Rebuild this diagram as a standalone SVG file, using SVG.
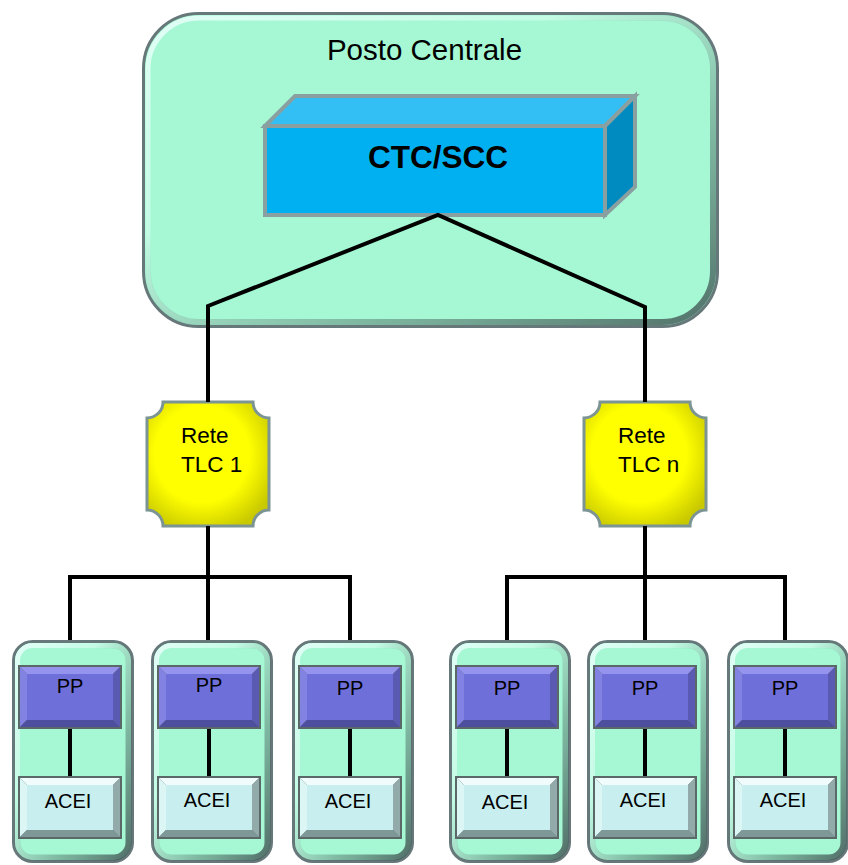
<svg xmlns="http://www.w3.org/2000/svg" xmlns:xlink="http://www.w3.org/1999/xlink" width="848" height="865" viewBox="0 0 848 865">
  <style>
    .lbl { font-family: "Liberation Sans", Arial, sans-serif; fill: #000; }
    .wire { fill: none; stroke: #000; stroke-width: 4; stroke-linejoin: miter; stroke-linecap: butt; }
    .panel { fill: #A5F8D3; stroke: #66787A; stroke-width: 3; }
    .hl { fill: none; stroke: url(#hlGrad); stroke-width: 5; }
    .sh { fill: none; stroke: url(#shGrad); stroke-width: 6; }
    .tlc { fill: url(#yellowGrad); stroke: #7C9494; stroke-width: 3; }
  </style>
  <defs>
    <linearGradient id="hlGrad" x1="0" y1="0" x2="1" y2="1">
      <stop offset="0" stop-color="#E4FFF8" stop-opacity="0.95"/>
      <stop offset="0.45" stop-color="#E4FFF8" stop-opacity="0.35"/>
      <stop offset="0.7" stop-color="#E4FFF8" stop-opacity="0"/>
    </linearGradient>
    <linearGradient id="shGrad" x1="0" y1="0" x2="1" y2="1">
      <stop offset="0.35" stop-color="#3E5050" stop-opacity="0"/>
      <stop offset="0.75" stop-color="#3E5050" stop-opacity="0.45"/>
      <stop offset="1" stop-color="#3E5050" stop-opacity="0.8"/>
    </linearGradient>
    <radialGradient id="yellowGrad" cx="0.45" cy="0.42" r="0.65">
      <stop offset="0.6" stop-color="#FFFF00"/>
      <stop offset="1" stop-color="#C9C900"/>
    </radialGradient>

    <!-- field cabinet: PP unit above ACEI unit -->
    <g id="cabinet">
      <rect class="panel" x="1.5" y="1.5" width="119" height="220" rx="19"/>
      <rect class="hl" x="5.5" y="5.5" width="111" height="212" rx="15"/>
      <rect class="sh" x="5.5" y="5.5" width="111" height="212" rx="15"/>
      <!-- PP bevelled block -->
      <rect x="6" y="25" width="104" height="64" fill="#5A6868"/>
      <polygon points="8,27 108,27 101,34 15,34" fill="#9494EE"/>
      <polygon points="8,27 15,34 15,80 8,87" fill="#8282E2"/>
      <polygon points="8,87 15,80 101,80 108,87" fill="#4E4E9E"/>
      <polygon points="108,27 108,87 101,80 101,34" fill="#5A5AB2"/>
      <rect x="15" y="34" width="86" height="46" fill="#6F6FD9"/>
      <!-- ACEI bevelled block -->
      <rect x="6" y="136" width="104" height="63" fill="#5A6868"/>
      <polygon points="8,138 108,138 101,145 15,145" fill="#F0FCFC"/>
      <polygon points="8,138 15,145 15,190 8,197" fill="#DCF5F5"/>
      <polygon points="8,197 15,190 101,190 108,197" fill="#7E9898"/>
      <polygon points="108,138 108,197 101,190 101,145" fill="#92AAAA"/>
      <rect x="15" y="145" width="86" height="45" fill="#C8EEEF"/>
    </g>
  </defs>

  <!-- central station container -->
  <g id="posto-centrale">
    <rect class="panel" x="143.5" y="13.5" width="574" height="313" rx="55"/>
    <rect class="hl" x="148" y="18" width="565" height="304" rx="51"/>
    <rect class="sh" x="148" y="18" width="565" height="304" rx="51"/>
    <text class="lbl" x="424.5" y="60" font-size="29.5" text-anchor="middle">Posto Centrale</text>
  </g>

  <!-- CTC/SCC server block (3D box) -->
  <g id="ctc-scc" stroke="#8AA0A0" stroke-width="4" stroke-linejoin="miter">
    <polygon points="265,126 295,96 635,96 605,126" fill="#33BFF3"/>
    <polygon points="605,126 635,96 635,187 605,215" fill="#008BC0"/>
    <rect x="265" y="126" width="340" height="89" fill="#00B0F0"/>
    <text class="lbl" x="438" y="168" font-size="31.5" font-weight="bold" text-anchor="middle" stroke="none">CTC/SCC</text>
  </g>

  <!-- telecom networks -->
  <g id="rete-tlc-1">
    <path class="tlc" d="M163,402 H253 A16,16 0 0 0 269,418 V510 A16,16 0 0 0 253,526 H163 A16,16 0 0 0 147,510 V418 A16,16 0 0 0 163,402 Z"/>
    <text class="lbl" x="181" y="443" font-size="22.5">Rete</text>
    <text class="lbl" x="181" y="472" font-size="22.5">TLC 1</text>
  </g>
  <g id="rete-tlc-n">
    <path class="tlc" d="M600,402 H690 A16,16 0 0 0 706,418 V510 A16,16 0 0 0 690,526 H600 A16,16 0 0 0 584,510 V418 A16,16 0 0 0 600,402 Z"/>
    <text class="lbl" x="618" y="443" font-size="22.5">Rete</text>
    <text class="lbl" x="618" y="472" font-size="22.5">TLC n</text>
  </g>

  <!-- peripheral sites -->
  <g id="site-1" transform="translate(12,640)">
    <use href="#cabinet"/>
    <text class="lbl" x="58" y="53" font-size="20" text-anchor="middle">PP</text>
    <text class="lbl" x="56" y="168" font-size="20" text-anchor="middle">ACEI</text>
  </g>
  <g id="site-2" transform="translate(151,640)">
    <use href="#cabinet"/>
    <text class="lbl" x="58" y="52" font-size="20" text-anchor="middle">PP</text>
    <text class="lbl" x="56" y="167" font-size="20" text-anchor="middle">ACEI</text>
  </g>
  <g id="site-3" transform="translate(292,640)">
    <use href="#cabinet"/>
    <text class="lbl" x="58" y="55" font-size="20" text-anchor="middle">PP</text>
    <text class="lbl" x="56" y="168" font-size="20" text-anchor="middle">ACEI</text>
  </g>
  <g id="site-4" transform="translate(449,640)">
    <use href="#cabinet"/>
    <text class="lbl" x="58" y="55" font-size="20" text-anchor="middle">PP</text>
    <text class="lbl" x="56" y="169" font-size="20" text-anchor="middle">ACEI</text>
  </g>
  <g id="site-5" transform="translate(587,640)">
    <use href="#cabinet"/>
    <text class="lbl" x="58" y="55" font-size="20" text-anchor="middle">PP</text>
    <text class="lbl" x="56" y="167" font-size="20" text-anchor="middle">ACEI</text>
  </g>
  <g id="site-6" transform="translate(727,640)">
    <use href="#cabinet"/>
    <text class="lbl" x="58" y="55" font-size="20" text-anchor="middle">PP</text>
    <text class="lbl" x="56" y="167" font-size="20" text-anchor="middle">ACEI</text>
  </g>

  <!-- links -->
  <g id="connectors" class="wire">
    <path d="M208,402 V306 L438,215 L645,307 V402"/>
    <path d="M208,526 V577"/>
    <path d="M70,640 V577 H350 V640"/>
    <path d="M208,577 V640"/>
    <path d="M645,526 V577"/>
    <path d="M507,640 V577 H785 V640"/>
    <path d="M645,577 V640"/>
    <path d="M70,729 V776"/>
    <path d="M209,729 V776"/>
    <path d="M350,729 V776"/>
    <path d="M507,729 V776"/>
    <path d="M645,729 V776"/>
    <path d="M785,729 V776"/>
  </g>
</svg>
